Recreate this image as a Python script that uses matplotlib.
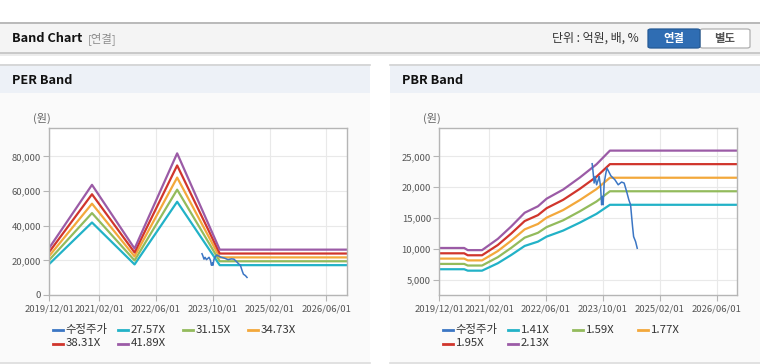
import matplotlib
matplotlib.use('Agg')
import matplotlib.pyplot as plt
import matplotlib.dates as mdates
from matplotlib.patches import Rectangle, FancyBboxPatch
from matplotlib.lines import Line2D
from matplotlib.ticker import FuncFormatter
import pandas as pd

plt.rcParams['font.family'] = ['Noto Sans CJK KR', 'DejaVu Sans']

W, H = 760, 364

# adjusted close (수정주가), same series on both charts
price_dates = ['2023-07-02', '2023-07-08', '2023-07-19', '2023-07-28', '2023-08-09',
               '2023-08-23', '2023-08-31', '2023-09-12', '2023-09-21', '2023-09-29',
               '2023-10-04', '2023-10-13', '2023-10-25', '2023-11-05', '2023-11-16',
               '2023-12-09', '2024-01-13', '2024-02-10', '2024-03-10', '2024-04-01',
               '2024-04-22', '2024-05-11', '2024-05-26', '2024-06-04', '2024-06-12',
               '2024-06-21', '2024-07-08', '2024-07-22']
price = [23820, 22840, 20690, 21760, 20410, 21220, 21760, 20140, 17170, 18510,
         17170, 20690, 22030, 23110, 22730, 21870, 21220, 20410, 20850, 20690,
         19330, 17980, 17170, 15270, 13650, 12020, 11210, 10140]

# PER band
per_dates = ['2019-12-01', '2020-12-01', '2021-12-01', '2022-12-01', '2023-12-01', '2026-11-26']
per_labels = ['27.57X', '31.15X', '34.73X', '38.31X', '41.89X']
per_2757 = [17920, 41850, 17650, 53820, 17230, 17230]
per_3115 = [20250, 47290, 19940, 60810, 19470, 19470]
per_3473 = [22580, 52720, 22230, 67790, 21710, 21710]
per_3831 = [24900, 58160, 24520, 74780, 23940, 23940]
per_4189 = [27230, 63590, 26810, 81770, 26180, 26180]

# PBR band
pbr_dates = ['2019-12-01', '2020-07-01', '2020-08-01', '2020-12-01', '2021-04-15',
             '2021-08-08', '2021-12-01', '2022-03-25', '2022-06-07', '2022-10-27',
             '2023-03-19', '2023-08-08', '2023-12-01', '2026-11-26']
pbr_labels = ['1.41X', '1.59X', '1.77X', '1.95X', '2.13X']
pbr_141 = [6740, 6740, 6510, 6510, 7710, 9050, 10510, 11210, 12020, 13000, 14290, 15700, 17170, 17170]
pbr_159 = [7600, 7600, 7340, 7340, 8690, 10200, 11850, 12640, 13560, 14660, 16120, 17700, 19360, 19360]
pbr_177 = [8460, 8460, 8170, 8170, 9680, 11360, 13190, 14070, 15090, 16320, 17940, 19710, 21550, 21550]
pbr_195 = [9320, 9320, 9000, 9000, 10660, 12520, 14540, 15500, 16620, 17980, 19760, 21710, 23750, 23750]
pbr_213 = [10180, 10180, 9830, 9830, 11650, 13670, 15880, 16930, 18160, 19640, 21590, 23720, 25940, 25940]

xticks = ['2019/12/01', '2021/02/01', '2022/06/01', '2023/10/01', '2025/02/01', '2026/06/01']
price_color = '#3b76c4'
band_colors = ['#22b2c7', '#93bb5c', '#f3a83b', '#d0352c', '#9b5ba6']


def fx(x):
    return x / W


def fy(y):
    return 1 - y / H


def rect(fig, x0, y0, x1, y1, color):
    fig.add_artist(Rectangle((fx(x0), fy(y1)), (x1 - x0) / W, (y1 - y0) / H,
                             transform=fig.transFigure, facecolor=color,
                             edgecolor='none', zorder=-10))


def hline(fig, x0, x1, y, color, lw=1.0):
    fig.add_artist(Line2D([fx(x0), fx(x1)], [fy(y), fy(y)], transform=fig.transFigure,
                          color=color, lw=lw, zorder=-5))


def panel(fig, x0, x1, title):
    rect(fig, x0, 93, x1, 362, '#fafafa')
    rect(fig, x0, 64, x1, 93, '#edf1f7')
    hline(fig, x0, x1, 64.5, '#d2d2d2', 1.2)
    hline(fig, x0, x1, 362.5, '#dcdcdc', 1.2)
    fig.text(fx(x0 + 12), fy(80), title, fontsize=9.2, fontweight='bold',
             color='#111111', va='center', ha='left')


def band_chart(fig, left, right, dates, bands, labels, ylim, yticks, unit_x):
    ax = fig.add_axes([fx(left), fy(295), (right - left) / W, (295 - 128) / H])
    ax.set_zorder(5)
    ax.set_facecolor('white')
    d = pd.to_datetime(dates)
    for vals, c in zip(bands, band_colors):
        ax.plot(d, vals, color=c, lw=1.6, zorder=2)
    ax.plot(pd.to_datetime(price_dates), price, color=price_color, lw=1.1, zorder=3)

    ax.set_xlim(pd.Timestamp('2019-12-01'), pd.Timestamp('2026-11-26'))
    ax.set_ylim(*ylim)
    ax.set_xticks(pd.to_datetime(xticks))
    ax.xaxis.set_major_formatter(mdates.DateFormatter('%Y/%m/%d'))
    ax.set_yticks(yticks)
    ax.yaxis.set_major_formatter(FuncFormatter(lambda v, p: f'{int(v):,}'))
    ax.grid(True, color='#e9e9e9', lw=0.8, zorder=0)
    ax.set_axisbelow(True)
    for s in ax.spines.values():
        s.set_color('#b5b5b5')
        s.set_linewidth(1.0)
    ax.tick_params(axis='both', colors='#b5b5b5', length=4, width=0.8,
                   labelcolor='#555555', labelsize=6.8, pad=2)
    ax.tick_params(axis='x', pad=3)

    fig.text(fx(unit_x), fy(118), '(원)', fontsize=8.0, color='#666666',
             va='center', ha='left')

    # legend drawn by hand, 4 columns
    items = [('수정주가', price_color)] + list(zip(labels, band_colors))
    for i, (lab, c) in enumerate(items):
        row, col = divmod(i, 4)
        x0 = left + 3.5 + col * 65
        y = 330 + row * 13.5
        fig.add_artist(Line2D([fx(x0), fx(x0 + 10.5)], [fy(y), fy(y)],
                              transform=fig.transFigure, color=c, lw=2.0))
        fig.text(fx(x0 + 13), fy(y), lab, fontsize=8.2, color='#333333',
                 va='center', ha='left')
    return ax


fig = plt.figure(figsize=(W / 100, H / 100), dpi=100)
fig.patch.set_facecolor('white')

# header bar
rect(fig, 0, 22, W, 53, '#f4f4f4')
hline(fig, 0, W, 22.5, '#b4b4b4', 1.3)
rect(fig, 0, 53, W, 56, '#ececec')
hline(fig, 0, W, 53, '#c2c2c2', 1.2)
fig.text(fx(12), fy(38.5), 'Band Chart', fontsize=9.2, fontweight='bold',
         color='#111111', va='center', ha='left')
fig.text(fx(88), fy(38.5), '[연결]', fontsize=8.2, color='#8c8c8c', va='center', ha='left')
fig.text(fx(552), fy(38.5), '단위 : 억원, 배, %', fontsize=8.6, color='#333333',
         va='center', ha='left')
fig.add_artist(FancyBboxPatch((fx(700), fy(48)), 50 / W, 19 / H,
                              boxstyle='round,pad=0,rounding_size=0.004',
                              transform=fig.transFigure, facecolor='white',
                              edgecolor='#b0b0b0', lw=0.9))
fig.add_artist(FancyBboxPatch((fx(648), fy(48)), 52 / W, 19 / H,
                              boxstyle='round,pad=0,rounding_size=0.004',
                              transform=fig.transFigure, facecolor='#2f6db3',
                              edgecolor='#255a96', lw=0.9))
fig.text(fx(674), fy(38.5), '연결', fontsize=8.2, fontweight='bold', color='white',
         va='center', ha='center')
fig.text(fx(725), fy(38.5), '별도', fontsize=8.2, fontweight='bold', color='#555555',
         va='center', ha='center')

panel(fig, 0, 370, 'PER Band')
panel(fig, 390, 760, 'PBR Band')

band_chart(fig, 49.3, 347, per_dates,
           [per_2757, per_3115, per_3473, per_3831, per_4189], per_labels,
           (0, 96400), [0, 20000, 40000, 60000, 80000], 33)
band_chart(fig, 439.3, 737.3, pbr_dates,
           [pbr_141, pbr_159, pbr_177, pbr_195, pbr_213], pbr_labels,
           (2570, 29600), [5000, 10000, 15000, 20000, 25000], 423)

fig.savefig('out.png', dpi=100)
